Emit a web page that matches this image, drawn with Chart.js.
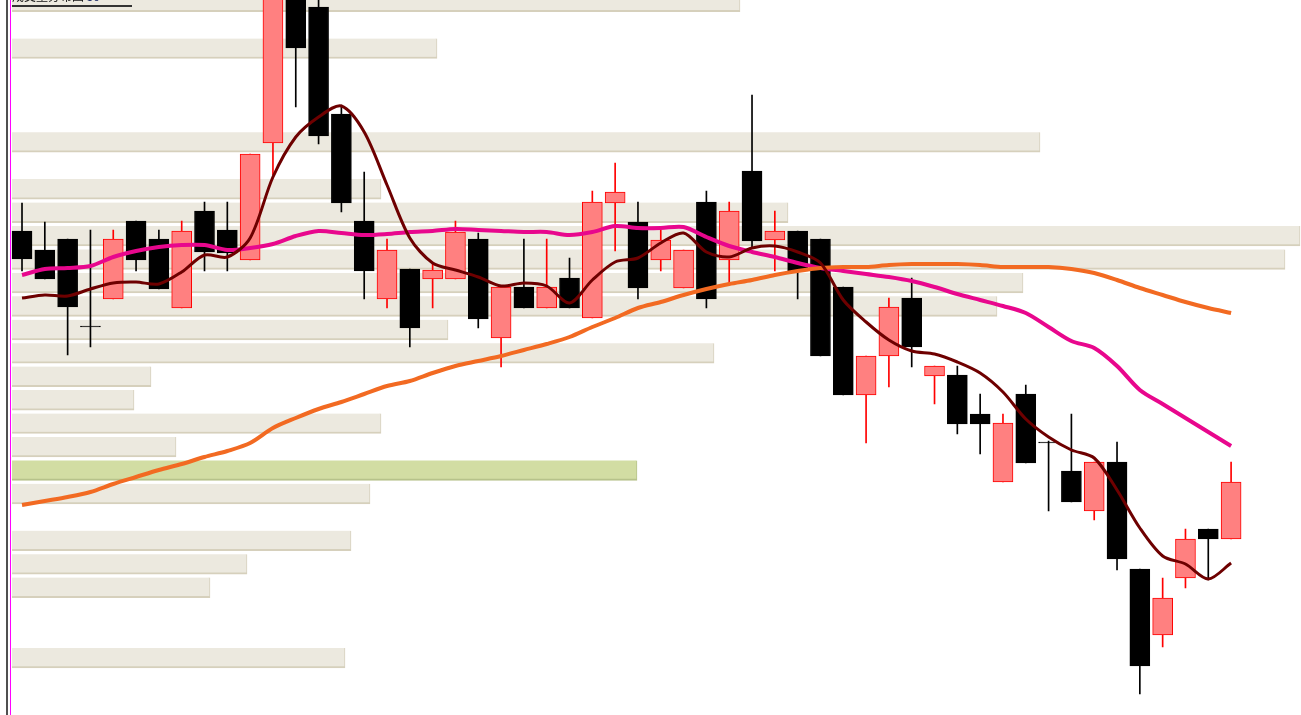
<!DOCTYPE html>
<html><head><meta charset="utf-8">
<script src="https://cdn.jsdelivr.net/npm/chart.js@4.4.1/dist/chart.umd.min.js"></script>
<style>
html,body{margin:0;padding:0;background:#fff;overflow:hidden}
#wrap{position:relative;width:1301px;height:715px;overflow:hidden;background:#fff}
canvas{position:absolute;left:0;top:0}
#ttl{position:absolute;left:12px;top:-10px;font:12px/12px "Noto Sans CJK SC",sans-serif;color:#111;white-space:nowrap}
#ul{position:absolute;left:12px;top:5px;width:120px;height:2px;background:#333}
#lg{position:absolute;left:6px;top:0;width:2px;height:715px;background:#505050}
#lm{position:absolute;left:10px;top:0;width:1px;height:715px;background:#ff00ff}
</style></head>
<body><div id="wrap">
<canvas id="vp" width="1301" height="715"></canvas>
<canvas id="kc" width="1301" height="715"></canvas>
<div id="lg"></div><div id="lm"></div>
<div id="ttl">成交量分布图 <span style="color:#102060">30</span></div><div id="ul"></div>
</div>
<script>
// ---- categories ----
const days = ['1','2','3','4','5','6','7','8','9','10','11','12','13','14','15','16','17','18','19','20',
  '21','22','23','24','25','26','27','28','29','30','31','32','33','34','35','36','37','38','39','40',
  '41','42','43','44','45','46','47','48','49','50','51','52','53','54'];

// ---- OHLC ----
const opens  = [48.4,46.5,47.6,38.8,41.6,49.4,47.6,40.7,50.4,48.5, 45.5,57.2,72.0,70.8,60.1,49.4,41.6,44.6,43.6,43.6,
                47.6,37.7,42.8,40.7,43.7,39.7,51.2,49.3,45.5,42.7, 51.3,45.5,54.4,47.5,48.4,47.6,42.8,32.0,35.9,41.7,
                33.9,34.0,30.1,23.3,32.1,27.2,24.4,20.4,25.3,14.6, 8.0,13.7,18.6,17.6];
const highs  = [51.2,49.3,47.6,48.5,48.5,49.4,48.5,49.4,51.3,51.3, 56.1,75.5,73.0,72.0,61.0,54.3,47.6,44.6,45.2,49.4,
                48.2,42.8,47.6,47.6,45.7,52.4,55.2,51.3,48.5,46.5, 52.4,51.3,62.0,50.4,48.4,47.6,42.8,35.9,41.7,43.7,
                34.9,34.9,32.1,30.1,33.0,27.4,30.1,25.3,27.3,14.6, 13.7,18.6,18.6,25.3];
const lows   = [44.4,43.6,36.0,36.8,41.6,44.4,42.6,40.7,44.4,44.4, 45.5,54.0,60.8,57.1,50.3,41.6,40.7,36.8,40.7,43.6,
                38.7,34.8,40.7,40.7,40.7,39.7,46.4,41.6,44.4,42.7, 40.7,43.2,46.8,44.4,41.6,35.9,32.0,27.2,32.8,34.8,
                31.1,28.1,26.1,23.3,25.2,20.4,21.3,19.5,14.5,2.1, 6.8,12.7,13.5,17.6];
const closes = [45.6,43.6,40.8,38.8,47.6,45.5,42.6,48.4,46.3,46.2, 56.1,74.5,66.7,57.9,51.2,44.4,46.5,38.7,44.5,48.3,
                39.6,42.8,40.7,42.8,40.7,51.3,52.3,42.7,47.5,46.5, 41.6,50.4,47.4,48.4,44.4,35.9,32.0,35.9,40.8,36.8,
                34.9,29.1,29.1,29.2,25.2,27.2,21.3,25.3,15.6,4.9, 11.7,17.6,17.6,23.3];

// ---- moving averages ----
const maShort = [41.7,42.0,41.9,42.6,43.2,43.3,43.1,44.3,46.0,45.8, 47.7,53.8,57.8,59.8,60.9,58.3,53.0,47.7,45.2,44.5,
                 43.8,42.9,43.2,42.9,41.2,43.5,45.3,45.7,47.2,48.2, 46.3,45.8,46.7,46.9,46.3,45.2,41.5,39.3,37.5,36.4,
                 36.1,35.3,34.2,32.3,29.6,27.8,26.5,25.7,22.5,18.7, 15.9,15.1,13.6,15.2];
const maMid   = [44.0,44.6,44.7,44.9,45.8,46.4,46.8,47.0,47.0,46.5, 46.7,47.1,47.9,48.4,48.2,48.0,48.1,48.3,48.4,48.6,
                 48.5,48.4,48.3,48.3,48.0,48.3,48.9,48.7,48.7,48.8, 47.8,46.9,46.3,45.8,45.2,44.7,44.4,44.1,43.8,43.4,
                 42.8,42.1,41.5,40.9,40.2,38.8,37.4,36.7,34.9,32.5, 31.1,29.7,28.3,26.9];
const maLong  = [21.0,21.4,21.8,22.3,23.1,23.8,24.5,25.1,25.8,26.4, 27.2,28.7,29.7,30.6,31.3,32.1,32.9,33.4,34.2,34.9,
                 35.4,35.9,36.5,37.1,37.8,38.8,39.7,40.7,41.3,42.0, 42.6,43.1,43.5,44.0,44.4,44.7,44.8,44.8,45.0,45.1,
                 45.1,45.1,45.0,44.8,44.8,44.8,44.6,44.2,43.5,42.7, 42.0,41.3,40.7,40.2];

// ---- volume profile (price level -> volume) ----
const priceLevels = [71.34,69.00,66.65,64.31,61.96,59.62,57.28,54.93,52.59,50.24,47.90,45.56,43.21,40.87,38.52,
                     36.18,33.84,31.49,29.15,26.80,24.46,22.12,19.77,17.43,15.08,12.74,10.40,8.05,5.71];
const volumeAtPrice = [728,0,425,0,0,0,1028,0,369,776,1288,1273,1011,985,436,
                       702,139,122,369,164,625,358,0,339,235,198,0,0,333];
const highlightLevel = 20;

const PRICE_MIN = 0, PRICE_MAX = 71.5;

// volume profile chart (behind)
new Chart(document.getElementById('vp'), {
  type: 'bar',
  data: {
    datasets: [{
      data: priceLevels.map((p, i) => ({ x: volumeAtPrice[i], y: p })),
      indexAxis: 'y',
      barThickness: 20,
      backgroundColor: priceLevels.map((p, i) => i === highlightLevel ? '#D2DDA3' : '#ECE9DF'),
      borderColor: priceLevels.map((p, i) => i === highlightLevel ? '#B6C28A' : '#D6D0BC'),
      borderWidth: { top: 0, left: 0, right: 1, bottom: 2 },
      borderSkipped: false
    }]
  },
  options: {
    indexAxis: 'y',
    responsive: false,
    animation: false,
    devicePixelRatio: 1,
    layout: { padding: { left: 12, right: 0, top: 0, bottom: 0 } },
    scales: {
      x: { type: 'linear', min: 0, max: 1289, display: false },
      y: { type: 'linear', min: PRICE_MIN, max: PRICE_MAX, offset: false, display: false }
    },
    plugins: { legend: { display: false }, tooltip: { enabled: false } }
  }
});

// candlestick + moving averages chart (front)
const isUp = closes.map((c, i) => c > opens[i]);
new Chart(document.getElementById('kc'), {
  type: 'bar',
  data: {
    labels: days,
    datasets: [
      { type: 'line', label: 'MA short', data: maShort, borderColor: '#6E0000', borderWidth: 3,
        pointRadius: 0, tension: 0.3, order: 0 },
      { type: 'line', label: 'MA long', data: maLong, borderColor: '#F26A22', borderWidth: 4,
        pointRadius: 0, tension: 0.3, order: 1 },
      { type: 'line', label: 'MA mid', data: maMid, borderColor: '#E8078D', borderWidth: 4,
        pointRadius: 0, tension: 0.3, order: 2 },
      { type: 'bar', label: 'body', data: opens.map((o, i) => [o, closes[i]]),
        backgroundColor: isUp.map(u => u ? '#FF8080' : '#000000'),
        borderColor: isUp.map(u => u ? '#FF0000' : '#000000'),
        borderWidth: 1, borderSkipped: false, barThickness: 20, minBarLength: 1, grouped: false, order: 3 },
      { type: 'bar', label: 'wick', data: lows.map((l, i) => [l, highs[i]]),
        backgroundColor: isUp.map(u => u ? '#FF0000' : '#000000'),
        borderWidth: 0, barThickness: 1, grouped: false, order: 4 }
    ]
  },
  options: {
    responsive: false,
    animation: false,
    devicePixelRatio: 1,
    layout: { padding: { left: 10.6, right: 58.5, top: 0, bottom: 0 } },
    scales: {
      x: { type: 'category', offset: true, display: false },
      y: { type: 'linear', min: PRICE_MIN, max: PRICE_MAX, display: false }
    },
    plugins: { legend: { display: false }, tooltip: { enabled: false } }
  }
});
</script>
</body></html>
